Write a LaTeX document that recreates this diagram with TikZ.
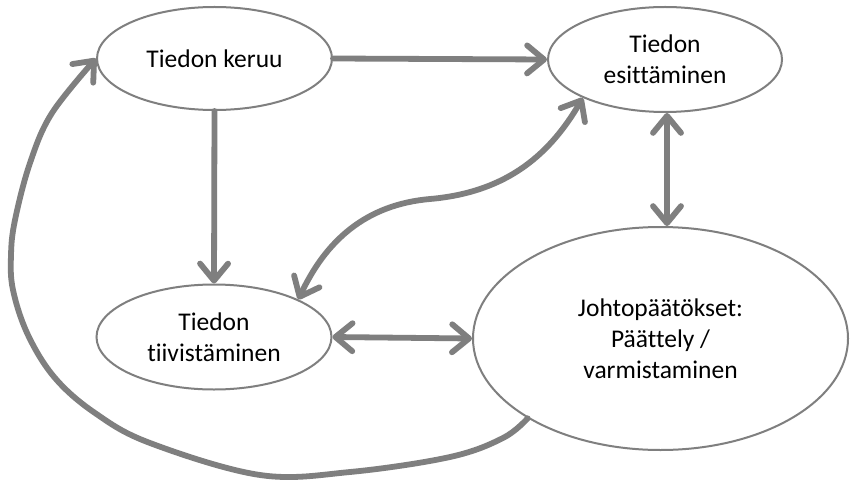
\documentclass[tikz,border=0pt]{standalone}
\usepackage{fontspec}
\setmainfont[Ligatures=NoCommon]{Carlito}
\usetikzlibrary{shapes.geometric,arrows.meta}
\definecolor{linegray}{HTML}{7F7F7F}
\tikzset{
  ell/.style={ellipse, draw=linegray, line width=2pt, fill=white, inner sep=0pt,
    align=center, font=\fontsize{25.5}{31}\selectfont, text=black},
  conn/.style={draw=linegray, line width=5.8pt, line cap=round, line join=round},
  >={Straight Barb[length=17pt,width=28pt,round]}
}
\begin{document}
\begin{tikzpicture}[x=1pt,y=1pt]
\fill[white] (0,0) rectangle (850,480);
\useasboundingbox (0,0) rectangle (850,480);

\node[ell, minimum width=235pt, minimum height=103pt] (keruu) at (214.5,421.5) {Tiedon keruu};
\node[ell, minimum width=234pt, minimum height=105pt] (esit) at (665,420.5) {Tiedon\\esittäminen};
\node[ell, minimum width=235pt, minimum height=105pt] (tiiv) at (214,143) {Tiedon\\tiivistäminen};
\node[ell, minimum width=375pt, minimum height=223pt] (johto) at (660.5,141.5) {Johtopäätökset:\\Päättely /\\varmistaminen};

\coordinate (smid) at (430,281);

\draw[conn,->] (keruu.east) -- (esit.west);
\draw[conn,->] (keruu.south) -- (tiiv.north);
\draw[conn,<->] (tiiv.east) -- (johto.west);
\draw[conn,<->] ([xshift=2pt]esit.south) -- ([xshift=2pt]esit.south |- johto.north);
\draw[conn,<->] (tiiv.24) to[out=65,in=185] (smid) to[out=5,in=-120] (esit.205);
\draw[conn,->] plot[smooth, tension=0.6] coordinates {(johto.211) (503,42) (450,23) (350,8) (260,5) (150,37) (95,67) (55,102) (28,145) (13,190) (11,225) (15,260) (30,317) (52,367) (keruu.west)};
\end{tikzpicture}
\end{document}
